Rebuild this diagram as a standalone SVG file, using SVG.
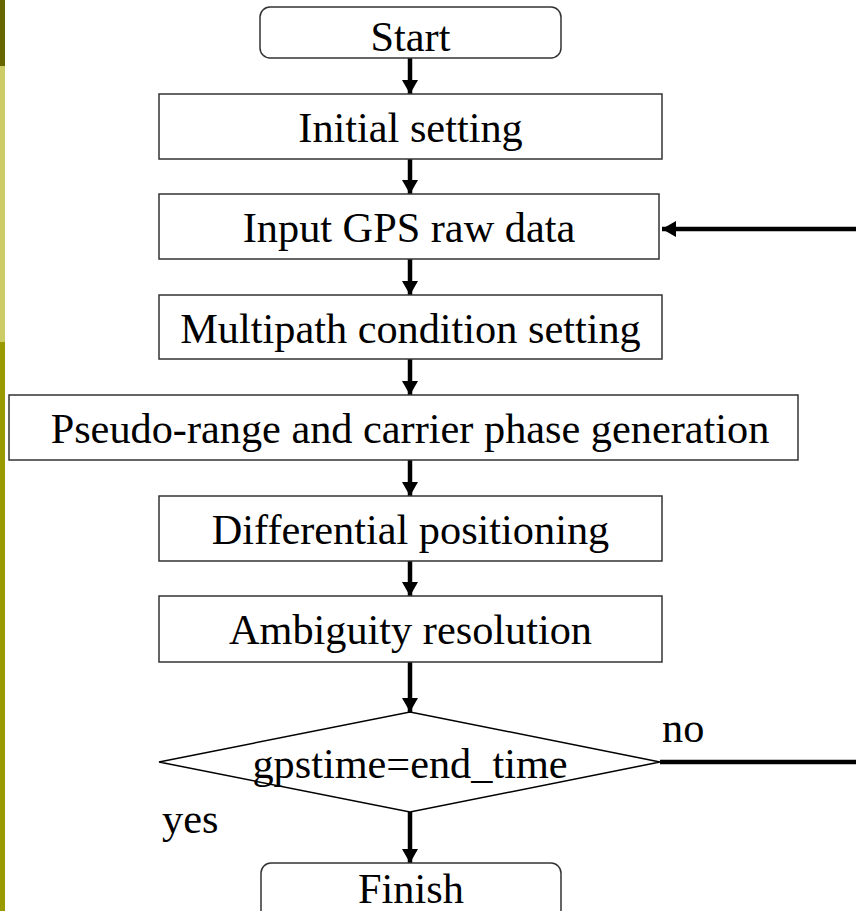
<svg xmlns="http://www.w3.org/2000/svg" width="856" height="911" viewBox="0 0 856 911">
<style>
.box{fill:#fff;stroke:#333;stroke-width:1.5}
.t{font-family:"Liberation Serif","Times New Roman",serif;font-size:42.3px;fill:#000}
.c{text-anchor:middle}
.ln{stroke:#000;stroke-width:4.5;fill:none}
</style>
<defs>
<marker id="ah" markerUnits="userSpaceOnUse" markerWidth="16" markerHeight="16" refX="14" refY="8" orient="auto">
<path d="M0,0 L14,8 L0,16 Z" fill="#000"/>
</marker>
</defs>
<rect x="0" y="0" width="856" height="911" fill="#fff"/>
<g id="sidebar">
<rect x="0" y="0" width="5" height="66" fill="#666600"/>
<rect x="0" y="66" width="5" height="276" fill="#cccc66"/>
<rect x="0" y="342" width="5" height="569" fill="#999900"/>
</g>
<g id="connectors">
<line class="ln" x1="410" y1="58" x2="410" y2="94" marker-end="url(#ah)"/>
<line class="ln" x1="410" y1="159" x2="410" y2="194" marker-end="url(#ah)"/>
<line class="ln" x1="410" y1="259" x2="410" y2="295" marker-end="url(#ah)"/>
<line class="ln" x1="410" y1="359" x2="410" y2="395" marker-end="url(#ah)"/>
<line class="ln" x1="410" y1="460" x2="410" y2="496" marker-end="url(#ah)"/>
<line class="ln" x1="410" y1="561" x2="410" y2="596" marker-end="url(#ah)"/>
<line class="ln" x1="410" y1="662" x2="410" y2="712" marker-end="url(#ah)"/>
<line class="ln" x1="410" y1="812" x2="410" y2="863" marker-end="url(#ah)"/>
<line class="ln" x1="856" y1="229" x2="662" y2="229" marker-end="url(#ah)"/>
<line class="ln" x1="660" y1="762" x2="856" y2="762"/>
<text class="t" x="662" y="742">no</text>
<text class="t" x="162" y="833">yes</text>
</g>
<g id="start">
<rect class="box" x="260" y="7" width="301" height="51" rx="10"/>
<text class="t c" x="410.5" y="51">Start</text>
</g>
<g id="initial">
<rect class="box" x="159" y="94" width="503" height="65"/>
<text class="t c" x="410.5" y="142">Initial setting</text>
</g>
<g id="input">
<rect class="box" x="159" y="194" width="500" height="65"/>
<text class="t c" x="409" y="242">Input GPS raw data</text>
</g>
<g id="multipath">
<rect class="box" x="159" y="295" width="503" height="64"/>
<text class="t c" x="410.5" y="343">Multipath condition setting</text>
</g>
<g id="pseudo">
<rect class="box" x="9" y="395" width="789" height="65"/>
<text class="t c" x="410" y="443">Pseudo-range and carrier phase generation</text>
</g>
<g id="differential">
<rect class="box" x="159" y="496" width="503" height="65"/>
<text class="t c" x="410.5" y="544">Differential positioning</text>
</g>
<g id="ambiguity">
<rect class="box" x="159" y="596" width="503" height="66"/>
<text class="t c" x="410.5" y="644">Ambiguity resolution</text>
</g>
<g id="decision">
<polygon points="410,712 660,762 410,812 159,762" fill="none" stroke="#000" stroke-width="1.5"/>
<text class="t c" x="410" y="778">gpstime=end_time</text>
</g>
<g id="finish">
<rect class="box" x="261" y="863" width="300" height="60" rx="10"/>
<text class="t c" x="411" y="903">Finish</text>
</g>
</svg>
